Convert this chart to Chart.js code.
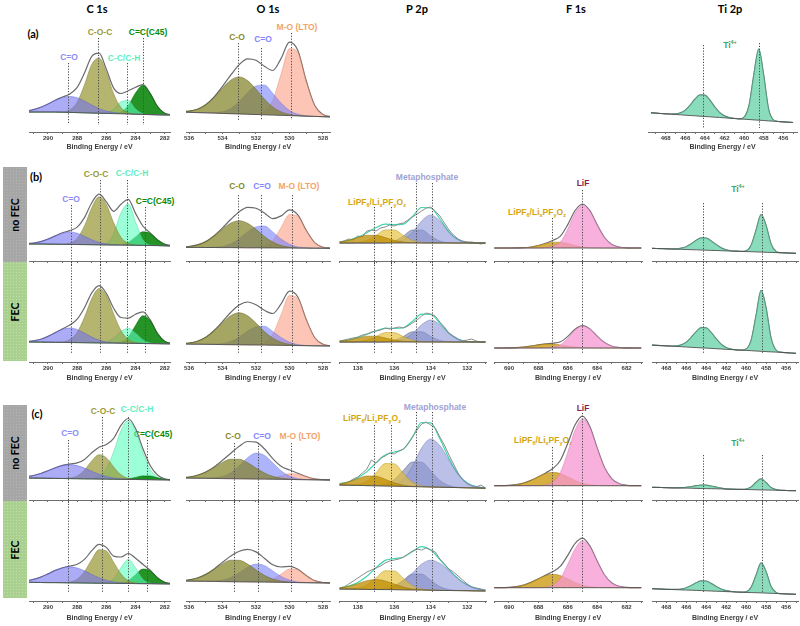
<!DOCTYPE html>
<html><head><meta charset="utf-8">
<script src="https://cdn.jsdelivr.net/npm/chart.js@4.4.1/dist/chart.umd.min.js"></script>
<style>
body{margin:0;background:#fff;width:800px;height:626px;position:relative;overflow:hidden;font-family:'Liberation Sans',Arial,sans-serif;}
canvas{position:absolute;}
.t{position:absolute;white-space:nowrap;transform:translate(-50%,-50%);font-weight:bold;font-size:8.5px;line-height:1;}
.t sub,.t sup{font-size:5.5px;line-height:0;}
.h{position:absolute;transform:translate(-50%,-50%);font:bold 11px Lato,sans-serif;color:#000;white-space:nowrap;}
.box{position:absolute;left:3px;width:24px;}
.gray{background:#a6a6a6 radial-gradient(#b4b4b4 0.6px,transparent 0.8px) 0 0/3px 3px;}
.green{background:#a9d08e radial-gradient(#bfe0a8 0.6px,transparent 0.8px) 0 0/3px 3px;}
.side{position:absolute;left:50%;top:50%;transform:translate(-50%,-50%) rotate(-90deg);font:bold 10.5px Lato,sans-serif;white-space:nowrap;color:#000;}
</style></head><body>

<div class="h" style="left:97px;top:8px">C 1s</div>
<div class="h" style="left:268px;top:8px">O 1s</div>
<div class="h" style="left:417px;top:8px">P 2p</div>
<div class="h" style="left:576px;top:8px">F 1s</div>
<div class="h" style="left:730px;top:8px">Ti 2p</div>
<div class="h" style="left:33px;top:33px">(a)</div>
<div class="h" style="left:36px;top:176px">(b)</div>
<div class="h" style="left:37px;top:413px">(c)</div>

<div class="box gray" style="top:167px;height:95px"><div class="side">no FEC</div></div>
<div class="box green" style="top:262px;height:99px"><div class="side">FEC</div></div>
<div class="box gray" style="top:405px;height:96px"><div class="side">no FEC</div></div>
<div class="box green" style="top:501px;height:97px"><div class="side">FEC</div></div>

<!-- row (a) labels -->
<div class="t" style="left:69px;top:57px;color:#8c8cf2">C=O</div>
<div class="t" style="left:100px;top:32px;color:#9a9a38">C-O-C</div>
<div class="t" style="left:124px;top:58px;color:#5ef0c2">C-C/C-H</div>
<div class="t" style="left:148px;top:32px;color:#078a07">C=C(C45)</div>
<div class="t" style="left:237px;top:37px;color:#8a8a2e">C-O</div>
<div class="t" style="left:263px;top:39px;color:#8585ff">C=O</div>
<div class="t" style="left:297px;top:27px;color:#f2a468">M-O (LTO)</div>
<div class="t" style="left:730px;top:45px;color:#33a673">Ti<sup>4+</sup></div>
<!-- row (b) labels -->
<div class="t" style="left:96px;top:174px;color:#9a9a38">C-O-C</div>
<div class="t" style="left:132px;top:173px;color:#5ef0c2">C-C/C-H</div>
<div class="t" style="left:71px;top:199px;color:#8c8cf2">C=O</div>
<div class="t" style="left:155px;top:201px;color:#078a07">C=C(C45)</div>
<div class="t" style="left:237px;top:186px;color:#8a8a2e">C-O</div>
<div class="t" style="left:262px;top:186px;color:#8585ff">C=O</div>
<div class="t" style="left:299px;top:186px;color:#f2a468">M-O (LTO)</div>
<div class="t" style="left:427px;top:177px;color:#9fa3d4">Metaphosphate</div>
<div class="t" style="left:377px;top:202px;color:#d6a60e">LiPF<sub>6</sub>/Li<sub>x</sub>PF<sub>y</sub>O<sub>z</sub></div>
<div class="t" style="left:583px;top:183px;color:#8a1c4e">LiF</div>
<div class="t" style="left:537px;top:212px;color:#d6a60e">LiPF<sub>6</sub>/Li<sub>x</sub>PF<sub>y</sub>O<sub>z</sub></div>
<div class="t" style="left:738px;top:189px;color:#33a673">Ti<sup>4+</sup></div>
<!-- row (c) labels -->
<div class="t" style="left:103px;top:411px;color:#9a9a38">C-O-C</div>
<div class="t" style="left:137px;top:409px;color:#5ef0c2">C-C/C-H</div>
<div class="t" style="left:70px;top:433px;color:#8c8cf2">C=O</div>
<div class="t" style="left:153px;top:434px;color:#078a07">C=C(C45)</div>
<div class="t" style="left:233px;top:436px;color:#8a8a2e">C-O</div>
<div class="t" style="left:262px;top:436px;color:#8585ff">C=O</div>
<div class="t" style="left:300px;top:436px;color:#f2a468">M-O (LTO)</div>
<div class="t" style="left:435px;top:407px;color:#9fa3d4">Metaphosphate</div>
<div class="t" style="left:372px;top:418px;color:#d6a60e">LiPF<sub>6</sub>/Li<sub>x</sub>PF<sub>y</sub>O<sub>z</sub></div>
<div class="t" style="left:583px;top:408px;color:#8a1c4e">LiF</div>
<div class="t" style="left:543px;top:440px;color:#d6a60e">LiPF<sub>6</sub>/Li<sub>x</sub>PF<sub>y</sub>O<sub>z</sub></div>
<div class="t" style="left:738px;top:443px;color:#33a673">Ti<sup>4+</sup></div>

<script>
// ---------- energy grids (eV) ----------
const eC = [291.5,291,290.5,290,289.5,289,288.5,288,287.5,287,286.5,286,285.5,285,284.5,284,283.5,283,282.5,282,281.5];
const eO = [536.5,536,535.5,535,534.5,534,533.5,533,532.5,532,531.5,531,530.5,530,529.5,529,528.5,528,527.5];
const eP = [139,138.5,138,137.5,137,136.5,136,135.5,135,134.5,134,133.5,133,132.5,132,131.5,131];
const ePr = [139,138.75,138.5,138.25,138,137.75,137.5,137.25,137,136.75,136.5,136.25,136,135.75,135.5,135.25,135,134.75,134.5,134.25,134,133.75,133.5,133.25,133,132.75,132.5,132.25,132,131.75,131.5,131.25,131];
const eF = [691,690.5,690,689.5,689,688.5,688,687.5,687,686.5,686,685.5,685,684.5,684,683.5,683,682.5,682,681.5,681];
const eT = [469.5,469,468.5,468,467.5,467,466.5,466,465.5,465,464.5,464,463.5,463,462.5,462,461.5,461,460.5,460,459.5,459,458.5,458,457.5,457,456.5,456,455.5,455];

// ---------- tick labels ----------
const tickC = [290,288,286,284,282];
const tickO = [536,534,532,530,528];
const tickP = [138,136,134,132];
const tickF = [690,688,686,684,682];
const tickT = [468,466,464,462,460,458,456];

// ---------- (a) ----------
const aC_bg  = [20,20,20,20,20,19.8,19.6,19.4,19.2,19,18.8,18.6,18.4,18.2,18,17.8,17.6,17.4,17.2,17,17];
const aC_CO  = [1,2.3,4.7,8,11.8,14.8,16,14.8,11.8,8,4.7,2.3,1,0.4,0,0,0,0,0,0,0];
const aC_COC = [0,0,0,0,0,0.4,2.5,10.4,28,48.6,55.3,41,19.8,6.2,1.3,0.2,0,0,0,0,0];
const aC_CC  = [0,0,0,0,0,0,0,0,0,0,0,0.8,4.5,12,13.5,5.5,0.8,0,0,0,0];
const aC_CdC = [0,0,0,0,0,0,0,0,0,0,0,0,0.2,1.7,8.4,21.2,29,21.2,8.4,1.7,0.2];
const aO_bg  = [20,19.7,19.4,19.2,18.9,18.6,18.3,18.1,17.8,17.5,17.2,16.9,16.7,16.4,16.1,15.8,15.6,15.3,15];
const aO_CO  = [0.3,1.2,3.4,8.1,15.7,25.3,33.6,37,33.6,25.3,15.7,8.1,3.4,1.2,0.3,0,0,0,0];
const aO_CdO = [0,0,0,0,0.4,1.7,5.2,12.3,21.8,28.5,29.8,21.8,12.3,5.2,1.7,0.4,0,0,0];
const aO_MO  = [0,0,0,0,0,0,0,0,0,0.4,3.1,14.7,41.2,67,63.5,35,11.2,2.1,0.3];
const aT_bg  = [19.2,18.9,18.5,18.2,17.9,17.5,17.2,16.8,16.5,16.2,15.8,15.5,15.2,14.8,14.5,14.2,13.8,13.5,13.1,12.8,12.5,12.1,11.8,11.5,11.1,10.8,10.5,10.1,9.8,9.5];
const aT_Ti  = [0,0,0,0,0.1,0.6,1.9,5,10.4,16.8,21.3,21.3,16.8,10.4,5,1.9,0.6,0.1,0,2,14,45.6,71,45.6,12.1,1.3,0,0,0,0];

// ---------- (b) no FEC ----------
const b1C_bg  = [17,17,17,16.9,16.8,16.7,16.6,16.5,16.4,16.3,16.2,16.1,16,15.9,15.8,15.7,15.6,15.5,15.4,15.2,15];
const b1C_CO  = [0.3,1,2.4,5,8.3,11.3,12.5,11.3,8.3,5,2.4,1,0.3,0.1,0,0,0,0,0,0,0];
const b1C_COC = [0,0,0,0,0,0.2,1.3,6.1,18.7,37,48,40.4,22.2,7.9,1.9,0.3,0,0,0,0,0];
const b1C_CC  = [0,0,0,0,0,0,0,0,0,0,0.2,1.7,11.2,32.3,41.3,23.3,5.8,0.6,0.1,0,0];
const b1C_CdC = [0,0,0,0,0,0,0,0,0,0,0,0,0,0.5,2.7,8.3,13.6,12,5.7,1.5,0.2];
const b1O_bg  = [13.7,13.6,13.6,13.5,13.5,13.4,13.4,13.3,13.2,13.2,13.1,13.1,13,13,12.9,12.9,12.8,12.8,12.7];
const b1O_CO  = [0.2,0.9,2.5,5.9,11.5,18.5,24.5,27,24.5,18.5,11.5,5.9,2.5,0.9,0.2,0,0,0,0];
const b1O_CdO = [0,0,0,0,0.3,1.2,3.8,9,16,20.9,21.9,16,9,3.8,1.2,0.3,0,0,0];
const b1O_MO  = [0,0,0,0,0,0,0,0,0,0.2,1.6,7.4,20.6,33.5,31.8,17.5,5.6,1,0.2];
const b1P_bg  = [18,18,18,18,18,18,18,18,18,18,18,18,18,18,18,18,18];
const b1P_L1  = [1,2.7,5.4,7.7,7.7,5.4,2.7,1,0.2,0,0,0,0,0,0,0,0];
const b1P_L2  = [0,0,0.5,2.6,7.6,13.1,13.1,7.6,2.6,0.5,0,0,0,0,0,0,0];
const b1P_M1  = [0,0,0,0,0,0.3,2,7,13,13,7,2,0.3,0,0,0,0];
const b1P_M2  = [0,0,0,0,0,0,0.6,3.3,10.7,22,28,22,10.7,3.3,0.6,0,0];
const b1P_raw = [19,20,22,21,25,24,30,31,30,33,34,36,35,37,38,41,44,47,50,53,54,50,45,38,31,26,22,20,19,19,18,17,18];
const b1F_bg  = [13,13,13,13,13,13,13,13,13,13,13,13,13,13,13,13,13,13,13,13,13];
const b1F_L   = [0,0,0,0.1,0.3,1,2.5,4.4,5.8,5.8,4.4,2.5,1,0.3,0.1,0,0,0,0,0,0];
const b1F_F   = [0,0,0,0,0,0,0,0.4,2,6,19,35,43,37,23,10.5,3.5,1,0.2,0,0];
const b1T_bg  = [12.7,12.5,12.4,12.2,12,11.8,11.7,11.5,11.3,11.2,11,10.8,10.6,10.5,10.3,10.1,9.9,9.8,9.6,9.4,9.3,9.1,8.9,8.7,8.6,8.4,8.2,8.1,7.9,7.7];
const b1T_Ti  = [0,0,0,0,0.06,0.34,1.1,2.8,5.9,9.5,12.1,12.1,9.5,5.9,2.8,1.1,0.34,0.06,0,0.8,6.5,22,37.5,27,8.5,1.2,0.1,0,0,0];

// ---------- (b) FEC ----------
const b2C_bg  = [20,20,19.9,19.8,19.7,19.6,19.5,19.4,19.3,19.2,19.1,19,18.9,18.8,18.7,18.6,18.5,18.4,18.3,18.2,18.1];
const b2C_CO  = [0.4,1.1,2.8,5.8,9.6,13.1,14.5,13.1,9.6,5.8,2.8,1.1,0.4,0.1,0,0,0,0,0,0,0];
const b2C_COC = [0,0,0,0,0.1,0.6,2.9,10.3,25.4,44.2,54.4,47.4,29.2,12.7,3.9,0.9,0.1,0,0,0,0];
const b2C_CC  = [0,0,0,0,0,0,0,0,0,0,0.1,1.1,5,11.7,15,10.3,3.9,0.8,0.1,0,0];
const b2C_CdC = [0,0,0,0,0,0,0,0,0,0,0,0,0.2,1.2,6.3,18,27.7,23,10.3,2.5,0.3];
const b2O_bg  = [18,17.9,17.8,17.7,17.6,17.4,17.3,17.2,17.1,17,16.9,16.8,16.7,16.6,16.4,16.3,16.2,16.1,16];
const b2O_CO  = [0.3,1.1,3,7,13.6,21.9,29.1,32,29.1,21.9,13.6,7,3,1.1,0.3,0,0,0,0];
const b2O_CdO = [0,0,0,0,0.25,1.1,3.3,7.8,13.8,18,18.9,13.8,7.8,3.3,1.1,0.25,0,0,0];
const b2O_MO  = [0,0,0,0,0,0,0,0,0,0.3,2.3,10.9,30.6,49.8,47.2,26,8.3,1.6,0.2];
const b2P_bg  = [20,20,20,20,20,20,20,20,20,20,20,20,20,20,20,20,20];
const b2P_L1  = [0.75,2,4,5.8,5.8,4,2,0.75,0.15,0,0,0,0,0,0,0,0];
const b2P_L2  = [0,0,0.36,1.9,5.4,9.4,9.4,5.4,1.9,0.36,0,0,0,0,0,0,0];
const b2P_M1  = [0,0,0,0,0,0.24,1.6,5.5,10.2,10.2,5.5,1.6,0.24,0,0,0,0];
const b2P_M2  = [0,0,0,0,0,0,0.5,2.6,8.4,17.3,22,17.3,8.4,2.6,0.5,0,0];
const b2P_raw = [21,22,23,24,25,27,28,30,31,32,34,33,34,35,34,36,39,42,46,49,48,46,40,35,29,26,23,21,22,23,21,20,20];
const b2F_bg  = [14,14,14,14,14,14,14,14,14,14,14,14,14,14,14,14,14,14,14,14,14];
const b2F_L   = [0,0,0.1,0.3,0.9,1.9,3.1,3.9,3.9,3.1,1.9,0.9,0.3,0.1,0,0,0,0,0,0,0];
const b2F_F   = [0,0,0,0,0,0,0,0.2,1,3.1,9.7,17.9,22,18.9,11.8,5.4,1.8,0.5,0.1,0,0];
const b2T_bg  = [17,16.7,16.4,16.1,15.9,15.6,15.3,15,14.7,14.4,14.1,13.9,13.6,13.3,13,12.7,12.4,12.1,11.9,11.6,11.3,11,10.7,10.4,10.1,9.9,9.6,9.3,9,8.7];
const b2T_Ti  = [0,0,0,0,0.1,0.6,1.8,4.8,9.9,16,20.3,20.3,16,9.9,4.8,1.8,0.6,0.1,0,1.3,10.5,36,61,44,14,2,0.2,0,0,0];

// ---------- (c) no FEC ----------
const c1C_bg  = [22,21.9,21.8,21.7,21.6,21.5,21.4,21.3,21.2,21.1,21,20.9,20.8,20.7,20.6,20.5,20.4,20.3,20.2,20.1,20];
const c1C_CO  = [1.2,2.6,4.7,7.6,10.7,13.1,14,13.1,10.7,7.6,4.7,2.6,1.2,0.5,0.2,0,0,0,0,0,0];
const c1C_COC = [0,0,0,0,0,0.1,0.6,2.7,8.7,18,24.3,21.4,12.3,4.6,1.1,0.2,0,0,0,0,0];
const c1C_CC  = [0,0,0,0,0,0,0,0,0,0.5,2.8,10.5,27.4,48.7,59,48.7,27.4,10.5,2.8,0.5,0];
const c1C_CdC = [0,0,0,0,0,0,0,0,0,0,0,0,0,0.1,0.6,2,3.7,3.7,2,0.6,0.1];
const c1O_bg  = [22,21.9,21.8,21.7,21.6,21.4,21.3,21.2,21.1,21,20.9,20.8,20.7,20.6,20.4,20.3,20.2,20.1,20];
const c1O_CO  = [0.4,1.1,2.9,6.2,11,16.2,19.5,19.5,16.2,11,6.2,2.9,1.1,0.4,0,0,0,0,0];
const c1O_CdO = [0,0,0,0.1,0.5,2.1,6,13,21.2,25.9,23.8,16.4,8.5,3.3,1,0.2,0,0,0];
const c1O_MO  = [0,0,0,0,0,0,0,0,0,0,0.3,1.3,3.5,5.7,5.4,3,1,0.2,0];
const c1P_bg  = [15,14.8,14.6,14.4,14.2,14,13.8,13.6,13.4,13.2,13,12.8,12.6,12.4,12.2,12,11.8];
const c1P_L1  = [1.2,3.4,6.8,9.6,9.6,6.8,3.4,1.2,0.3,0,0,0,0,0,0,0,0];
const c1P_L2  = [0,0,0.9,4.4,13,22.4,22.4,13,4.4,0.9,0,0,0,0,0,0,0];
const c1P_M1  = [0,0,0,0,0.3,1.9,6.8,16.1,24.6,24.6,16.1,6.8,1.9,0.3,0,0,0];
const c1P_M2  = [0,0,0,0,0,0,1.6,7,20.4,38.8,48,41.6,27.1,13.2,4.8,1.3,0.3];
const c1P_raw = [15,16,18,21,23,27,31,40,37,42,44,47,46,49,51,56,63,70,76,78,75,72,63,55,45,36,27,20,16,14,13,15,12];
const c1F_bg  = [14.3,14.3,14.3,14.3,14.3,14.3,14.3,14.3,14.3,14.3,14.3,14.3,14.3,14.3,14.3,14.3,14.3,14.3,14.3,14.3,14.3];
const c1F_L   = [0,0,0.3,1,2.6,5.3,8.9,12.1,13.4,12.1,8.9,5.3,2.6,1,0.3,0,0,0,0,0,0];
const c1F_F   = [0,0,0,0,0,0,0,0.7,4,13.4,33.5,55.6,67,58.3,37.5,18.1,6.7,2,0.4,0,0];
const c1T_bg  = [12.7,12.6,12.5,12.3,12.2,12.1,12,11.9,11.8,11.6,11.5,11.4,11.3,11.2,11.1,10.9,10.8,10.7,10.6,10.5,10.4,10.2,10.1,10,9.9,9.8,9.7,9.5,9.4,9.3];
const c1T_Ti  = [0,0,0,0,0,0.1,0.3,0.8,1.7,2.7,3.4,3.4,2.7,1.7,0.8,0.3,0.1,0,0,0.5,2.5,7.5,11,7.5,2.5,0.5,0,0,0,0];

// ---------- (c) FEC ----------
const c2C_bg  = [18.7,18.6,18.5,18.4,18.4,18.3,18.2,18.1,18,17.9,17.8,17.8,17.7,17.6,17.5,17.4,17.3,17.3,17.2,17.1,17];
const c2C_CO  = [1.4,3,5.4,8.7,12.2,14.9,16,14.9,12.2,8.7,5.4,3,1.4,0.6,0.2,0,0,0,0,0,0];
const c2C_COC = [0,0,0,0,0,0.1,0.8,3.7,11.4,23.7,33.5,32.2,21.1,9.4,2.9,0.6,0.1,0,0,0,0];
const c2C_CC  = [0,0,0,0,0,0,0,0,0,0,0,0.6,4.7,15.9,24,15.9,4.7,0.6,0,0,0];
const c2C_CdC = [0,0,0,0,0,0,0,0,0,0,0,0,0,0.5,2.9,8.9,14.6,12.9,6.1,1.6,0.2];
const c2O_bg  = [20,19.9,19.8,19.7,19.6,19.4,19.3,19.2,19.1,19,18.9,18.8,18.7,18.6,18.4,18.3,18.2,18.1,18];
const c2O_CO  = [0.4,1.2,3.2,6.8,12.1,17.8,21.5,21.5,17.8,12.1,6.8,3.2,1.2,0.4,0,0,0,0,0];
const c2O_CdO = [0,0,0,0.1,0.35,1.5,4.2,9,14.7,17.9,16.5,11.3,5.9,2.3,0.7,0.1,0,0,0];
const c2O_MO  = [0,0,0,0,0,0,0,0,0,0.1,0.6,2.9,8.2,13.4,12.7,7,2.2,0.4,0.1];
const c2P_bg  = [12,11.9,11.8,11.6,11.5,11.4,11.3,11.1,11,10.9,10.8,10.6,10.5,10.4,10.3,10.1,10];
const c2P_L1  = [1,2.8,5.6,8.7,10,8.7,5.6,2.8,1,0.3,0,0,0,0,0,0,0];
const c2P_L2  = [0,0.2,1.1,4.5,11.7,18.8,18.8,11.7,4.5,1.1,0.2,0,0,0,0,0,0];
const c2P_M1  = [0,0,0,0,0.1,0.9,3.8,9.9,16,16,9.9,3.8,0.9,0.1,0,0,0];
const c2P_M2  = [0,0,0,0,0,0.8,3,8.3,16.9,26,30,27.1,19.9,11.9,5.8,2.3,0.7];
const c2P_raw = [13,14,17,20,23,26,29,31,33,35,38,40,41,42,44,47,50,52,51,53,51,49,42,37,32,29,25,21,17,14,13,12,11];
const c2F_bg  = [13.3,13.3,13.3,13.3,13.3,13.3,13.3,13.3,13.3,13.3,13.3,13.3,13.3,13.3,13.3,13.3,13.3,13.3,13.3,13.3,13.3];
const c2F_L   = [0,0,0.3,1,2.6,5.3,8.9,12.1,13.4,12.1,8.9,5.3,2.6,1,0.3,0,0,0,0,0,0];
const c2F_F   = [0,0,0,0,0,0,0,0.5,2.8,9.4,23.5,39,47,40.9,26.3,12.7,4.7,1.4,0.3,0,0];
const c2T_bg  = [12.3,12.1,11.9,11.7,11.5,11.3,11.1,11,10.8,10.6,10.4,10.2,10,9.8,9.6,9.4,9.2,9,8.8,8.6,8.4,8.3,8.1,7.9,7.7,7.5,7.3,7.1,6.9,6.7];
const c2T_Ti  = [0,0,0,0,0.05,0.3,0.9,2.3,4.7,7.6,9.7,9.7,7.6,4.7,2.3,0.9,0.3,0.05,0,0.6,5.2,17.6,30,21.6,6.8,1,0,0,0,0];

// ---------- styles & layout ----------
Chart.defaults.font.family = "'Liberation Sans', Arial, sans-serif";
const S = {
  cCO:  {fill:'rgba(115,115,240,0.6)', line:'rgba(90,90,210,0.55)'},
  cCOC: {fill:'rgba(150,150,50,0.7)', line:'rgba(120,120,40,0.6)'},
  cCC:  {fill:'rgba(90,255,190,0.6)', line:'rgba(60,200,150,0.5)'},
  cCdC: {fill:'rgba(0,128,0,0.85)', line:'rgba(0,100,0,0.7)'},
  oCO:  {fill:'rgba(130,130,40,0.72)', line:'rgba(100,100,30,0.6)'},
  oCdO: {fill:'rgba(120,130,250,0.6)', line:'rgba(100,110,220,0.5)'},
  oMO:  {fill:'rgba(250,150,120,0.55)', line:'rgba(230,130,100,0.5)'},
  pL1:  {fill:'rgba(190,140,0,0.75)', line:'rgba(150,110,0,0.6)'},
  pL2:  {fill:'rgba(230,190,50,0.65)', line:'rgba(180,150,30,0.6)'},
  pM1:  {fill:'rgba(90,100,160,0.5)', line:'rgba(70,80,130,0.6)'},
  pM2:  {fill:'rgba(140,150,215,0.6)', line:'rgba(110,120,180,0.6)'},
  fL:   {fill:'rgba(205,155,20,0.8)', line:'rgba(170,125,10,0.6)'},
  fF:   {fill:'rgba(245,150,210,0.75)', line:'rgba(210,120,180,0.6)'},
  tT:   {fill:'rgba(90,205,160,0.7)', line:'rgba(70,170,130,0.6)'}
};
const colC = {left:29, width:141, xmin:281.64, xmax:291.3, grid:eC, ticks:tickC};
const colO = {left:186, width:144, xmin:527.58, xmax:536.18, grid:eO, ticks:tickO};
const colP = {left:339, width:147, xmin:130.97, xmax:139.03, grid:eP, ticks:tickP};
const colF = {left:494, width:148, xmin:680.95, xmax:691.02, grid:eF, ticks:tickF};
const colT = {left:652, width:146, xmin:454.8, xmax:469.43, grid:eT, ticks:tickT};
const colTa = {left:648, width:149, xmin:454.6, xmax:469.8, grid:eT, ticks:tickT};
const rowA  = {top:20,  areaH:112, axisH:20, labels:true};
const rowB1 = {top:165, areaH:96,  axisH:4,  labels:false};
const rowB2 = {top:262, areaH:100, axisH:21, labels:true};
const rowC1 = {top:404, areaH:96,  axisH:4,  labels:false};
const rowC2 = {top:501, areaH:100, axisH:22, labels:true};

const dotLines = {
  id:'dotLines',
  afterDatasetsDraw(chart, args, opts){
    const ctx = chart.ctx, x = chart.scales.x, y = chart.scales.y;
    ctx.save(); ctx.strokeStyle = '#4a4a4a'; ctx.lineWidth = 1; ctx.setLineDash([1.2,1.6]);
    for (const l of (opts.lines || [])) {
      const px = Math.round(x.getPixelForValue(l[0])) + 0.5;
      ctx.beginPath(); ctx.moveTo(px, y.getPixelForValue(l[1])); ctx.lineTo(px, y.getPixelForValue(l[2])); ctx.stroke();
    }
    ctx.restore();
  }
};

const PAD = 8;
function panel(col, row, set, lines){
  const cv = document.createElement('canvas');
  const h = row.areaH + row.axisH, w = col.width + 2*PAD;
  cv.width = w; cv.height = h;
  Object.assign(cv.style, {left:(col.left-PAD)+'px', top:row.top+'px', width:w+'px', height:h+'px'});
  document.body.appendChild(cv);
  const P = (g, a) => a.map((v, i) => ({x:g[i], y:v}));
  const bg = set.bg;
  const datasets = [{data:P(col.grid, bg), borderColor:'#505050', borderWidth:0.9, pointRadius:0, fill:false, tension:0}];
  set.comps.forEach(([arr, st]) => datasets.push({
    data:P(col.grid, arr.map((v, i) => v + bg[i])), backgroundColor:st.fill, borderColor:st.line,
    borderWidth:0.8, pointRadius:0, fill:0, cubicInterpolationMode:'monotone'}));
  if (set.raw) datasets.push({data:P(ePr, set.raw), borderColor:'#8c8c8c', borderWidth:1, pointRadius:0, fill:false, tension:0});
  const env = bg.map((b, i) => set.comps.reduce((s, [arr]) => s + arr[i], b));
  datasets.push({data:P(col.grid, env), borderColor:set.raw ? '#3fd6b0' : '#6b6b6b', borderWidth:1.2,
    pointRadius:0, fill:false, cubicInterpolationMode:'monotone'});
  new Chart(cv, {
    type:'line', data:{datasets}, plugins:[dotLines],
    options:{
      responsive:false, animation:false, devicePixelRatio:1,
      layout:{padding:{left:PAD, right:PAD, top:0, bottom:0}},
      plugins:{legend:{display:false}, tooltip:{enabled:false}, dotLines:{lines}},
      scales:{
        x:{type:'linear', reverse:true, min:col.xmin, max:col.xmax,
           border:{display:true, color:'#6e6e6e', width:1},
           grid:{display:true, drawOnChartArea:false, drawTicks:true, tickLength:2, color:'#6e6e6e'},
           ticks:{stepSize:1, autoSkip:false, includeBounds:false, maxRotation:0, minRotation:0, padding:1,
                  color:'#3c3c3c', font:{size:6, weight:'bold'},
                  callback:v => (row.labels && col.ticks.includes(v)) ? String(v) : ''},
           title:{display:row.labels, text:'Binding Energy / eV', color:'#3c3c3c', font:{size:7, weight:'bold'}, padding:{top:0, bottom:0.8}},
           afterFit:s => { s.height = row.axisH; }},
        y:{display:false, min:0, max:row.areaH}
      }
    }
  });
}

const fullB = L => L.map(e => [e, 100, 9]);
// (a)
panel(colC, rowA, {bg:aC_bg, comps:[[aC_CO,S.cCO],[aC_COC,S.cCOC],[aC_CC,S.cCC],[aC_CdC,S.cCdC]]},
  [[288.63,69,8],[286.58,94,7],[284.59,69,7],[283.49,94,7]]);
panel(colO, rowA, {bg:aO_bg, comps:[[aO_CO,S.oCO],[aO_CdO,S.oCdO],[aO_MO,S.oMO]]},
  [[533.05,89,12],[531.7,84,12],[529.9,99,12]]);
panel(colTa, rowA, {bg:aT_bg, comps:[[aT_Ti,S.tT]]}, [[464.2,87,4],[458.5,89,4]]);
// (b) no FEC
panel(colC, rowB1, {bg:b1C_bg, comps:[[b1C_CO,S.cCO],[b1C_COC,S.cCOC],[b1C_CC,S.cCC],[b1C_CdC,S.cCdC]]},
  [[288.42,56,-4],[286.44,81,-4],[284.57,81,-4],[283.36,54,-4]]);
panel(colO, rowB1, {bg:b1O_bg, comps:[[b1O_CO,S.oCO],[b1O_CdO,S.oCdO],[b1O_MO,S.oMO]]},
  [[533.1,66,-4],[531.72,66,-4],[529.87,66,-4]]);
panel(colP, rowB1, {bg:b1P_bg, raw:b1P_raw, comps:[[b1P_L1,S.pL1],[b1P_L2,S.pL2],[b1P_M2,S.pM2],[b1P_M1,S.pM1]]},
  [[137.1,54,-4],[136.19,54,-4],[134.81,78,-4],[133.93,78,-4]]);
panel(colF, rowB1, {bg:b1F_bg, comps:[[b1F_F,S.fF],[b1F_L,S.fL]]}, [[687.1,43,-4],[685.0,71,-4]]);
panel(colT, rowB1, {bg:b1T_bg, comps:[[b1T_Ti,S.tT]]}, [[464.3,58,-4],[458.4,58,-4]]);
// (b) FEC
panel(colC, rowB2, {bg:b2C_bg, comps:[[b2C_CO,S.cCO],[b2C_COC,S.cCOC],[b2C_CC,S.cCC],[b2C_CdC,S.cCdC]]},
  fullB([288.42,286.44,284.57,283.36]));
panel(colO, rowB2, {bg:b2O_bg, comps:[[b2O_CO,S.oCO],[b2O_CdO,S.oCdO],[b2O_MO,S.oMO]]}, fullB([533.1,531.72,529.87]));
panel(colP, rowB2, {bg:b2P_bg, raw:b2P_raw, comps:[[b2P_L1,S.pL1],[b2P_L2,S.pL2],[b2P_M2,S.pM2],[b2P_M1,S.pM1]]},
  fullB([137.1,136.19,134.81,133.93]));
panel(colF, rowB2, {bg:b2F_bg, comps:[[b2F_F,S.fF],[b2F_L,S.fL]]}, fullB([687.1,685.0]));
panel(colT, rowB2, {bg:b2T_bg, comps:[[b2T_Ti,S.tT]]}, fullB([464.3,458.4]));
// (c) no FEC
panel(colC, rowC1, {bg:c1C_bg, comps:[[c1C_CO,S.cCO],[c1C_COC,S.cCOC],[c1C_CdC,S.cCdC],[c1C_CC,S.cCC]]},
  [[288.65,60,-4],[286.32,83,-4],[284.5,83,-4],[283.2,60,-4]]);
panel(colO, rowC1, {bg:c1O_bg, comps:[[c1O_CO,S.oCO],[c1O_CdO,S.oCdO],[c1O_MO,S.oMO]]},
  [[533.3,57,-4],[531.9,57,-4],[529.9,57,-4]]);
panel(colP, rowC1, {bg:c1P_bg, raw:c1P_raw, comps:[[c1P_L1,S.pL1],[c1P_L2,S.pL2],[c1P_M2,S.pM2],[c1P_M1,S.pM1]]},
  [[137.1,75,-4],[136.2,75,-4],[134.83,88,-4],[133.95,88,-4]]);
panel(colF, rowC1, {bg:c1F_bg, comps:[[c1F_F,S.fF],[c1F_L,S.fL]]}, [[687.05,53,-4],[685.0,87,-4]]);
panel(colT, rowC1, {bg:c1T_bg, comps:[[c1T_Ti,S.tT]]}, [[464.3,45,-4],[458.4,45,-4]]);
// (c) FEC
panel(colC, rowC2, {bg:c2C_bg, comps:[[c2C_CO,S.cCO],[c2C_COC,S.cCOC],[c2C_CC,S.cCC],[c2C_CdC,S.cCdC]]},
  fullB([288.65,286.32,284.5,283.2]));
panel(colO, rowC2, {bg:c2O_bg, comps:[[c2O_CO,S.oCO],[c2O_CdO,S.oCdO],[c2O_MO,S.oMO]]}, fullB([533.3,531.9,529.9]));
panel(colP, rowC2, {bg:c2P_bg, raw:c2P_raw, comps:[[c2P_L1,S.pL1],[c2P_L2,S.pL2],[c2P_M2,S.pM2],[c2P_M1,S.pM1]]},
  fullB([137.1,136.2,134.83,133.95]));
panel(colF, rowC2, {bg:c2F_bg, comps:[[c2F_F,S.fF],[c2F_L,S.fL]]}, fullB([687.05,685.0]));
panel(colT, rowC2, {bg:c2T_bg, comps:[[c2T_Ti,S.tT]]}, fullB([464.3,458.4]));
</script>
</body></html>
